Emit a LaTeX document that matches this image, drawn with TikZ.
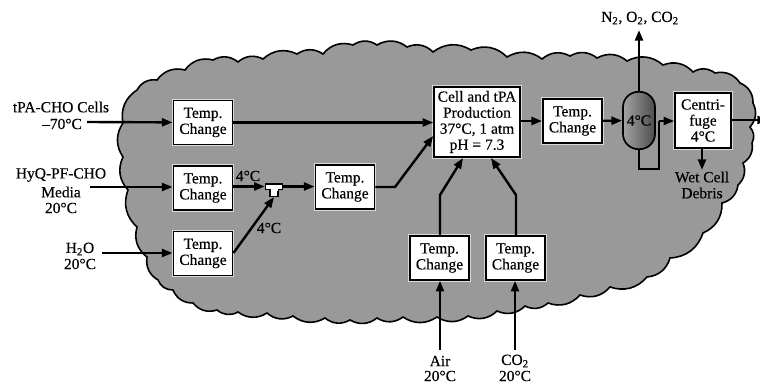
\documentclass[tikz,border=0pt]{standalone}
\usepackage{fontspec}
\setmainfont{Liberation Serif}[FakeBold=0.25]
\usetikzlibrary{arrows.meta}
\definecolor{blobgray}{gray}{0.60}
\definecolor{halo}{gray}{0.85}
\newcommand{\dgmfont}{\fontsize{11.6}{12}\selectfont}
\tikzset{
  lbl/.style={inner sep=0pt,align=center,font=\dgmfont},
  procbox/.style={draw=black,line width=1.2pt,fill=white,inner sep=0pt,align=center,
    font=\dgmfont,preaction={draw=halo,line width=2.4pt}},
  tempbox/.style={procbox,minimum width=44.5pt,minimum height=33pt},
  flow/.style={line width=1.8pt,-{Triangle[length=8pt,width=6pt]}},
  plain/.style={line width=1.8pt},
  vessel/.style={draw=black,line width=1.3pt,minimum width=24pt,minimum height=43pt,rounded corners=11.5pt,
    inner sep=0pt,left color=blobgray!90!white,middle color=blobgray!75!white,right color=black!70,font=\dgmfont},
  blob/.style={draw=black,line width=1.2pt,fill=blobgray,every to/.style={bend left=34}},
}
\begin{document}
\begin{tikzpicture}[x=0.75pt,y=-0.75pt]
\useasboundingbox (0,0) rectangle (760,385);
\clip (0,0) rectangle (760,385);
\fill[white] (0,0) rectangle (760,385);
% cloud
\draw[blob] (123,123) to (137,90) to (157,80) to (185,70) to (213,60) to (238,62) to (263,59)
 to (297,54) to (323,54) to (353,45) to (377,45) to (407,47) to (433,52) to (471,50) to (507,57)
 to (542,59) to (570,56) to (597,58) to (627,61) to (663,65) to (693,72) to (715,73) to (740,83)
 to (753,103) to (750,127) to (752,143) to (743,163) to (738,185) to (722,203) to (703,233)
 to (670,258) to (647,277) to (610,287) to (580,295) to (548,303) to (525,306) to (497,311)
 to (468,316) to (437,317) to (403,317) to (377,318) to (350,320) to (325,318) to (293,316)
 to (267,313) to (238,312) to (217,310) to (193,303) to (173,290) to (158,280) to (147,257)
 to (137,227) to (128,190) to (123,157) to cycle;
% boxes
\node[tempbox] (t1) at (203,122.5) {Temp.\\Change};
\node[tempbox] (t2) at (203,188) {Temp.\\Change};
\node[tempbox] (t3) at (203,253.5) {Temp.\\Change};
\node[tempbox] (t4) at (345,187) {Temp.\\Change};
\node[tempbox] (t5) at (572.5,121) {Temp.\\Change};
\node[tempbox] (t6) at (439.5,258) {Temp.\\Change};
\node[tempbox] (t7) at (515.5,258) {Temp.\\Change};
\node[procbox,minimum width=64.5pt,minimum height=52.5pt] (cell) at (477,122)
  {Cell and tPA\\Production\\37°C, 1 atm\\pH = 7.3};
\node[procbox,minimum width=42pt,minimum height=41.5pt] (cen) at (703,120.5)
  {Centri-\\fuge\\4°C};
\node[vessel] (ves) at (639,120.5) {4°C};
% mixer
\node[draw=black,line width=1pt,fill=white,minimum width=13pt,minimum height=4pt,inner sep=0pt] (mix) at (274,186.5) {};
\node[draw=black,line width=1pt,fill=white,minimum width=6pt,minimum height=5pt,inner sep=0pt,anchor=north] (stem) at (274,189) {};
\fill[white] (270.5,188.5) rectangle (277.5,191);
% free ends
\coordinate (a1) at (87,122);
\coordinate (a2) at (90,187);
\coordinate (a3) at (102,253);
\coordinate (airs) at (440,350);
\coordinate (co2s) at (515,350);
\coordinate (gas) at (639,30);
\coordinate (out) at (768,120);
\coordinate (deb) at (702,170);
\coordinate (k1) at (395,187);
\coordinate (k2) at (440,195);
\coordinate (k3) at (516,195);
\coordinate (l1) at (639,169);
\coordinate (l2) at (659,169);
\coordinate (l3) at (659,121);
% labels
\node[lbl] (n1) at (61,107) {tPA-CHO Cells};
\node[lbl] (n2) at (62,124) {–70°C};
\node[lbl] (n3) at (61,175) {HyQ-PF-CHO};
\node[lbl] (n4) at (61,192) {Media};
\node[lbl] (n5) at (61,208) {20°C};
\node[lbl] (n6) at (80,249) {H\textsubscript{2}O};
\node[lbl] (n7) at (80,264) {20°C};
\node[lbl] (n8) at (440,361) {Air};
\node[lbl] (n9) at (440,376) {20°C};
\node[lbl] (n10) at (515,361) {CO\textsubscript{2}};
\node[lbl] (n11) at (515,376) {20°C};
\node[lbl] (n12) at (640,18) {N\textsubscript{2}, O\textsubscript{2}, CO\textsubscript{2}};
\node[lbl] (n13) at (702,177) {Wet Cell};
\node[lbl] (n14) at (702,193) {Debris};
\node[lbl] (n15) at (248,176) {4°C};
\node[lbl] (n16) at (269,228) {4°C};
% connectors
\draw[flow] (a1) -- (t1);
\draw[flow] (a2) -- (t2.west |- a2);
\draw[flow] (a3) -- (t3.west |- a3);
\draw[flow] (t1) -- (cell.west |- t1);
\draw[flow] (t2.east |- mix) -- (mix);
\draw[flow] (t3.east |- a3) -- (stem.south);
\draw[flow] (mix) -- (t4.west |- mix);
\draw[flow] (t4.east) -- (k1) -- (cell.west |- 0,136);
\draw[flow] (cell.east |- t5) -- (t5);
\draw[flow] (t5) -- (ves);
\draw[flow] (ves) -- (gas);
\draw[plain] (ves) -- (l1) -- (l2) -- (l3);
\draw[flow] (l3) -- (cen.west |- l3);
\draw[flow] (cen.east |- out) -- (out);
\draw[flow] (cen.south -| deb) -- (deb);
\draw[flow] (airs) -- (t6.south -| airs);
\draw[flow] (co2s) -- (t7.south -| co2s);
\draw[flow] (t6.north -| k2) -- (k2) -- (463,158);
\draw[flow] (t7.north -| k3) -- (k3) -- (491,158);
\end{tikzpicture}
\end{document}
